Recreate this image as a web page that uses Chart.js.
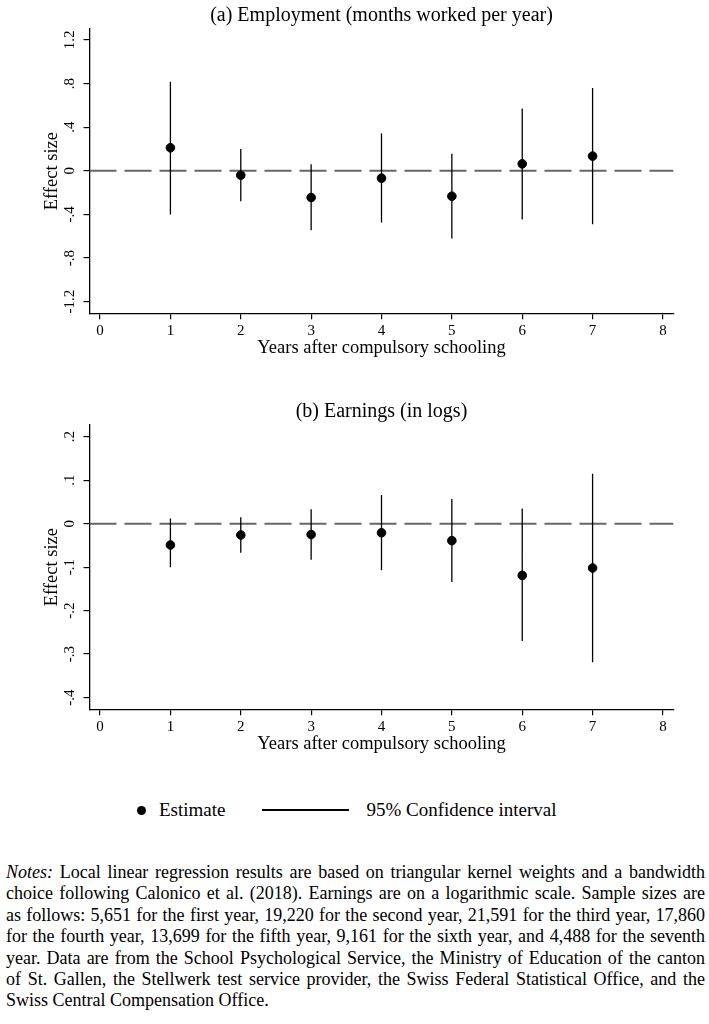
<!DOCTYPE html>
<html>
<head>
<meta charset="utf-8">
<script src="https://cdn.jsdelivr.net/npm/chart.js@4.4.1/dist/chart.umd.min.js"></script>
<style>
  body { margin: 0; background: #fff; width: 709px; height: 1024px; position: relative; overflow: hidden;
         font-family: "Liberation Serif", "DejaVu Serif", serif; color: #000; }
  .wrap { position: absolute; left: 0; width: 709px; height: 370px; }
  #legend { position: absolute; left: 136.5px; top: 798px; height: 24px; display: flex; align-items: center; font-size: 19px; }
  #legend .dot { width: 9px; height: 9px; border-radius: 50%; background: #000; margin-right: 13.5px; }
  #legend .line { width: 87px; height: 1.3px; background: #000; margin-left: 37px; margin-right: 17px; }
  #notes { position: absolute; left: 6px; top: 862px; width: 699px; font-size: 18px; line-height: 21.4px; }
  #notes div { text-align: justify; text-align-last: justify; white-space: nowrap; }
  #notes div.last { text-align-last: left; }
</style>
</head>
<body>
<div class="wrap" style="top:0"><canvas id="chartA"></canvas></div>
<div class="wrap" style="top:396px"><canvas id="chartB"></canvas></div>
<div id="legend">
  <div class="dot"></div><span>Estimate</span><div class="line"></div><span>95% Confidence interval</span>
</div>
<div id="notes">
  <div><i>Notes:</i> Local linear regression results are based on triangular kernel weights and a bandwidth</div>
  <div>choice following Calonico et al. (2018). Earnings are on a logarithmic scale. Sample sizes are</div>
  <div>as follows: 5,651 for the first year, 19,220 for the second year, 21,591 for the third year, 17,860</div>
  <div>for the fourth year, 13,699 for the fifth year, 9,161 for the sixth year, and 4,488 for the seventh</div>
  <div>year. Data are from the School Psychological Service, the Ministry of Education of the canton</div>
  <div>of St. Gallen, the Stellwerk test service provider, the Swiss Federal Statistical Office, and the</div>
  <div class="last">Swiss Central Compensation Office.</div>
</div>
<script>
// years after compulsory schooling
const years = [1, 2, 3, 4, 5, 6, 7];

// (a) employment, months worked per year
const empEstimate = [0.211, -0.040, -0.245, -0.067, -0.233, 0.064, 0.135];
const empLower = [-0.401, -0.279, -0.545, -0.474, -0.621, -0.447, -0.490];
const empUpper = [0.817, 0.199, 0.061, 0.343, 0.156, 0.572, 0.759];

// (b) earnings, in logs
const earnEstimate = [-0.049, -0.026, -0.025, -0.021, -0.039, -0.119, -0.102];
const earnLower = [-0.100, -0.067, -0.083, -0.107, -0.134, -0.270, -0.319];
const earnUpper = [0.012, 0.015, 0.033, 0.066, 0.057, 0.035, 0.115];

// ticks
const xTicks = [0, 1, 2, 3, 4, 5, 6, 7, 8];
const empTicks = [-1.2, -0.8, -0.4, 0, 0.4, 0.8, 1.2];
const empTickLabels = ['-1.2', '-.8', '-.4', '0', '.4', '.8', '1.2'];
const earnTicks = [-0.4, -0.3, -0.2, -0.1, 0, 0.1, 0.2];
const earnTickLabels = ['-.4', '-.3', '-.2', '-.1', '0', '.1', '.2'];

const serif = 'Liberation Serif';
const X_MIN = -0.15, X_MAX = 8.15;

function grafico(id, titulo, est, lo, hi, yMin, yMax, yTicks, yLabels, tickPad) {
    // vertical CI segments, separated by gaps
    const ci = [];
    years.forEach((yr, i) => {
        ci.push({x: yr, y: lo[i]}, {x: yr, y: hi[i]}, {x: yr, y: null});
    });
    const puntos = years.map((yr, i) => ({x: yr, y: est[i]}));

    return new Chart(document.getElementById(id), {
        type: 'scatter',
        data: {
            datasets: [
                {
                    label: 'Estimate',
                    data: puntos,
                    backgroundColor: '#000',
                    borderColor: '#000',
                    pointRadius: 4.3,
                    pointHoverRadius: 4.3,
                    order: 0
                },
                {
                    type: 'line',
                    label: '95% Confidence interval',
                    data: ci,
                    borderColor: '#000',
                    borderWidth: 1.3,
                    pointRadius: 0,
                    spanGaps: false,
                    fill: false,
                    order: 1
                },
                {
                    type: 'line',
                    label: 'zero',
                    data: [{x: X_MIN, y: 0}, {x: X_MAX, y: 0}],
                    borderColor: '#666',
                    borderWidth: 2,
                    borderDash: [27, 8],
                    pointRadius: 0,
                    fill: false,
                    order: 2
                }
            ]
        },
        options: {
            responsive: true,
            maintainAspectRatio: false,
            animation: false,
            events: [],
            layout: { padding: { left: 0, right: 35.5, top: 0, bottom: 0 } },
            plugins: {
                legend: { display: false },
                tooltip: { enabled: false },
                title: {
                    display: true,
                    text: titulo,
                    color: '#000',
                    fullSize: false,
                    font: { family: serif, size: 20, weight: 'normal' },
                    padding: { top: 4, bottom: 1 }
                }
            },
            scales: {
                x: {
                    type: 'linear',
                    min: X_MIN,
                    max: X_MAX,
                    afterBuildTicks: s => { s.ticks = xTicks.map(v => ({value: v})); },
                    afterFit: s => { s.height = 56.7; },
                    ticks: {
                        color: '#000',
                        font: { family: serif, size: 15 },
                        padding: 3,
                        maxRotation: 0,
                        autoSkip: false,
                        callback: v => String(v)
                    },
                    grid: { display: true, drawOnChartArea: false, tickLength: 6, color: '#000', lineWidth: 1.2 },
                    border: { display: true, color: '#000', width: 1.3 },
                    title: {
                        display: true,
                        text: 'Years after compulsory schooling',
                        color: '#000',
                        font: { family: serif, size: 18.5 },
                        padding: { top: 0, bottom: 10.6 }
                    }
                },
                y: {
                    min: yMin,
                    max: yMax,
                    afterBuildTicks: s => { s.ticks = yTicks.map(v => ({value: v})); },
                    afterFit: s => { s.width = 89.5; },
                    ticks: {
                        color: '#000',
                        font: { family: serif, size: 15 },
                        minRotation: 90,
                        maxRotation: 90,
                        crossAlign: 'center',
                        padding: tickPad,
                        autoSkip: false,
                        callback: v => {
                            const k = yTicks.findIndex(t => Math.abs(t - v) < 1e-9);
                            return k >= 0 ? yLabels[k] : '';
                        }
                    },
                    grid: { display: true, drawOnChartArea: false, tickLength: 6, color: '#000', lineWidth: 1.2 },
                    border: { display: true, color: '#000', width: 1.3 },
                    title: {
                        display: true,
                        text: 'Effect size',
                        color: '#000',
                        font: { family: serif, size: 18.5 },
                        padding: { top: 41, bottom: 0 }
                    }
                }
            }
        }
    });
}

grafico('chartA', '(a) Employment (months worked per year)', empEstimate, empLower, empUpper,
        -1.306, 1.3, empTicks, empTickLabels, 1.6);
grafico('chartB', '(b) Earnings (in logs)', earnEstimate, earnLower, earnUpper,
        -0.427, 0.227, earnTicks, earnTickLabels, 5.4);
</script>
</body>
</html>
